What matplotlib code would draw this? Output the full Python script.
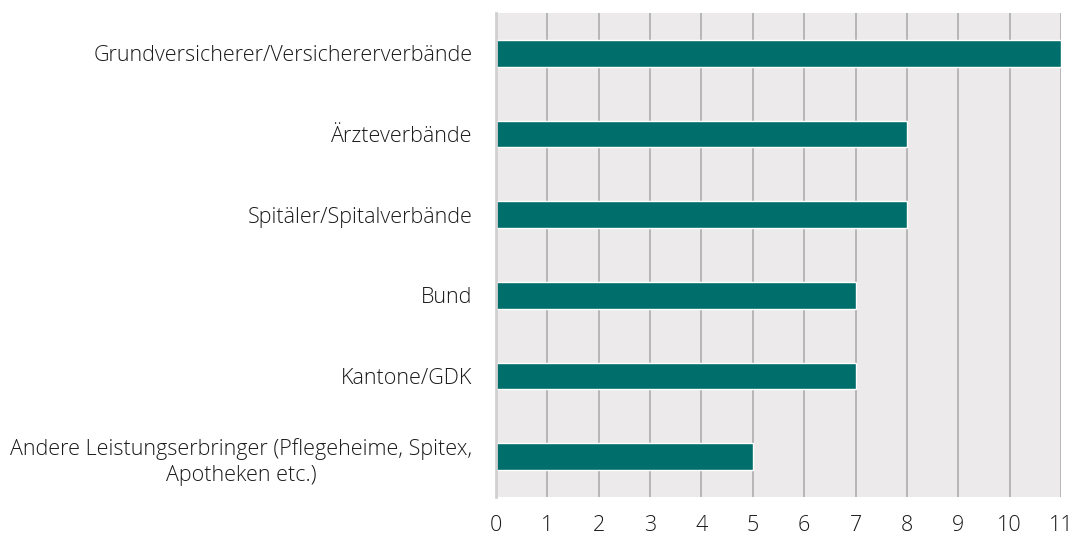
import matplotlib.pyplot as plt

# data
categories = [
    "Grundversicherer/Versichererverbände",
    "Ärzteverbände",
    "Spitäler/Spitalverbände",
    "Bund",
    "Kantone/GDK",
    "Andere Leistungserbringer (Pflegeheime, Spitex,\nApotheken etc.)",
]
values = [11, 8, 8, 7, 7, 5]
x_ticks = list(range(0, 12))

plt.rcParams["font.family"] = ["Open Sans", "DejaVu Sans"]

fig = plt.figure(figsize=(10.74, 5.38), dpi=100)
ax = fig.add_axes([0.4618, 0.0762, 0.5261, 0.8996])
ax.set_facecolor("#ECEAEB")

y = list(range(len(categories)))
ax.barh(y, values, height=0.33, color="#006E6A", edgecolor="white", linewidth=1, zorder=3)

ax.set_ylim(len(categories) - 0.5, -0.5)
ax.set_xlim(0, 11)
ax.set_xticks(x_ticks)
ax.set_yticks(y)
ax.set_yticklabels(categories, fontsize=15.5, fontweight="light", color="#1A1A1A",
                   multialignment="center", linespacing=1.35)
ax.set_xticklabels([str(t) for t in x_ticks], fontsize=15.5, fontweight="light", color="#1A1A1A")

ax.grid(axis="x", color="#A8A8A8", linewidth=1.1, zorder=1)
ax.tick_params(axis="both", length=0)
ax.tick_params(axis="x", pad=13)
ax.tick_params(axis="y", pad=17)

for side in ["top", "right", "bottom"]:
    ax.spines[side].set_visible(False)
ax.spines["left"].set_color("#D0D0D0")
ax.spines["left"].set_linewidth(2)
ax.spines["left"].set_zorder(4)

fig.savefig("out.png", dpi=100)
